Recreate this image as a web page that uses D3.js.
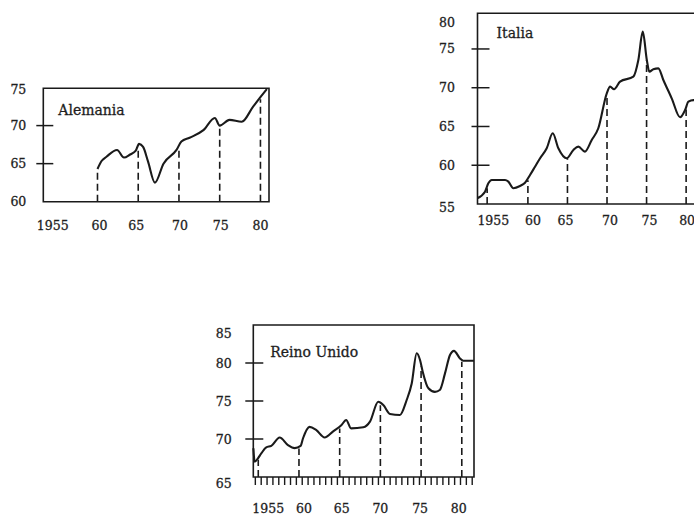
<!DOCTYPE html>
<html>
<head>
<meta charset="utf-8">
<script src="https://cdn.jsdelivr.net/npm/d3@7"></script>
<style>
  html, body { margin: 0; padding: 0; background: #fff; }
  svg { display: block; }
  text { font-family: "DejaVu Serif", "Liberation Serif", serif; fill: #1e1e1e; stroke: #1e1e1e; stroke-width: 0.3px; }
</style>
</head>
<body>
<script>
// ---------- DATA ----------
const titles = ["Alemania", "Italia", "Reino Unido"];

const alemaniaYears  = [1960.0, 1960.5, 1961.1, 1962.4, 1963.25, 1964.0, 1964.7, 1965.1, 1965.6, 1966.2, 1967.05, 1968.1, 1969.7, 1970.3, 1971.3, 1973.0, 1974.4, 1975.0, 1976.2, 1977.7, 1979.1, 1979.9, 1980.8];
const alemaniaValues = [64.3, 65.35, 65.9, 66.8, 65.8, 66.2, 66.7, 67.6, 67.2, 65.3, 62.5, 65.0, 66.8, 67.9, 68.4, 69.4, 71.0, 70.0, 70.75, 70.5, 72.5, 73.6, 74.8];

const italiaYears  = [1953.6, 1954.58, 1955.0, 1955.43, 1957.11, 1957.53, 1958.16, 1959.0, 1959.64, 1960.27, 1960.9, 1961.54, 1962.38, 1963.14, 1963.85, 1964.91, 1965.75, 1966.38, 1967.2, 1968.07, 1968.9, 1969.97, 1970.39, 1970.89, 1971.65, 1973.33, 1973.96, 1974.52, 1975.03, 1975.35, 1975.86, 1976.49, 1977.12, 1978.19, 1979.23, 1979.87, 1980.29, 1980.92, 1982.5];
const italiaValues = [55.74, 56.59, 57.67, 58.1, 58.1, 57.88, 57.03, 57.32, 57.75, 58.74, 59.81, 60.9, 62.19, 64.12, 62.19, 60.9, 61.97, 62.4, 61.75, 63.26, 64.77, 69.28, 70.14, 69.8, 70.78, 71.43, 73.58, 77.23, 73.58, 72.07, 72.38, 72.5, 71.0, 68.6, 66.19, 67.13, 68.2, 68.4, 68.4];

const ukYears  = [1954.4, 1954.56, 1954.96, 1955.37, 1955.98, 1956.6, 1957.63, 1958.65, 1959.47, 1960.2, 1960.5, 1961.3, 1962.1, 1963.15, 1964.2, 1965.2, 1965.8, 1966.4, 1967.9, 1968.72, 1969.74, 1970.36, 1971.18, 1972.4, 1973.23, 1973.85, 1974.46, 1974.87, 1975.2, 1975.9, 1976.7, 1977.3, 1977.93, 1978.55, 1979.04, 1979.78, 1980.18, 1981.5];
const ukValues = [68.78, 67.0, 67.46, 68.1, 68.9, 69.1, 70.2, 69.2, 68.8, 69.1, 70.1, 71.6, 71.2, 70.2, 71.0, 71.8, 72.5, 71.4, 71.54, 72.28, 74.9, 74.47, 73.3, 73.16, 75.13, 77.3, 81.28, 80.4, 78.86, 76.67, 76.2, 76.45, 78.6, 81.05, 81.6, 80.6, 80.3, 80.3];

const alemaniaDashYears = [1960, 1965, 1970, 1975, 1980];
const italiaDashYears   = [1954.85, 1960, 1965, 1970, 1975, 1980];
const ukDashYears       = [1955, 1960, 1965, 1970, 1975, 1980];

const alemaniaYTicks = [60, 65, 70, 75];
const italiaYTicks   = [55, 60, 65, 70, 75, 80];
const ukYTicks       = [65, 70, 75, 80, 85];

const xTickYears  = [1955, 1960, 1965, 1970, 1975, 1980];
const xTickLabels = ["1955", "60", "65", "70", "75", "80"];

// ---------- LAYOUT ----------
const W = 694, H = 515;
const svg = d3.select("body").append("svg").attr("width", W).attr("height", H);

const panels = [
  { title: titles[0], years: alemaniaYears, values: alemaniaValues, dash: alemaniaDashYears, yTicks: alemaniaYTicks,
    x0: 43.3, x1: 269, y0: 201.7, y1: 88.3, xDom: [1953.35, 1981.05], yDom: [60, 74.9],
    rightBorder: true, tickL: 7, tickR: 10, labelGap: 17, topShift: 2, botShift: 0,
    titleDx: 15, titleDy: 27, xLabelDy: 28, minorTicks: false, xLabelDx: [-4, 2, -2, 1, 1, 0] },
  { title: titles[1], years: italiaYears, values: italiaValues, dash: italiaDashYears, yTicks: italiaYTicks,
    x0: 477.5, x1: 712, y0: 204, y1: 13.3, xDom: [1953.63, 1983.27], yDom: [55, 79.6],
    rightBorder: false, tickL: 6, tickR: 12, labelGap: 22.5, topShift: 12, botShift: 3,
    titleDx: 19, titleDy: 25, xLabelDy: 21, minorTicks: false, xLabelDx: [5, 5, -2, 3, 3, 1] },
  { title: titles[2], years: ukYears, values: ukValues, dash: ukDashYears, yTicks: ukYTicks,
    x0: 253.3, x1: 474, y0: 477, y1: 325, xDom: [1954.39, 1981.5], yDom: [65, 85],
    rightBorder: true, tickL: 8, tickR: 10, labelGap: 21.6, topShift: 8, botShift: 6,
    titleDx: 17, titleDy: 32, xLabelDy: 36, minorTicks: true, xLabelDx: [10, 5, 2, 0, -1, -3] }
];

const ink = "#1a1a1a";

panels.forEach(p => {
  const x = d3.scaleLinear().domain(p.xDom).range([p.x0, p.x1]);
  const y = d3.scaleLinear().domain(p.yDom).range([p.y0, p.y1]);
  const g = svg.append("g");
  const pts = p.years.map((yr, i) => ({ yr, v: p.values[i] }));

  // value at a given year (linear interpolation along the data)
  const bis = d3.bisector(d => d.yr).left;
  const valueAt = yr => {
    let i = bis(pts, yr);
    if (i <= 0) return pts[0].v;
    if (i >= pts.length) return pts[pts.length - 1].v;
    const a = pts[i - 1], b = pts[i];
    return a.v + (b.v - a.v) * (yr - a.yr) / (b.yr - a.yr);
  };

  // dashed drop lines
  g.selectAll("line.dash").data(p.dash).enter().append("line")
    .attr("x1", d => x(d)).attr("x2", d => x(d))
    .attr("y1", p.y0).attr("y2", d => y(valueAt(d)) + 2)
    .attr("stroke", ink).attr("stroke-width", 1.6)
    .attr("stroke-dasharray", "7,4");

  // box
  const box = d3.path();
  if (p.rightBorder) {
    box.moveTo(p.x0, p.y0); box.lineTo(p.x0, p.y1); box.lineTo(p.x1, p.y1); box.lineTo(p.x1, p.y0); box.closePath();
  } else {
    box.moveTo(p.x1, p.y1); box.lineTo(p.x0, p.y1); box.lineTo(p.x0, p.y0); box.lineTo(p.x1, p.y0);
  }
  g.append("path").attr("d", box.toString()).attr("fill", "none")
    .attr("stroke", ink).attr("stroke-width", 1.6);

  // y ticks (crossing the axis), interior only
  const inner = p.yTicks.slice(1, -1);
  g.selectAll("line.yt").data(inner).enter().append("line")
    .attr("x1", p.x0 - p.tickL).attr("x2", p.x0 + p.tickR)
    .attr("y1", d => y(d)).attr("y2", d => y(d))
    .attr("stroke", ink).attr("stroke-width", 1.5);

  // y labels
  g.selectAll("text.yl").data(p.yTicks).enter().append("text")
    .attr("x", p.x0 - p.labelGap)
    .attr("y", (d, i) => y(d) + (i === p.yTicks.length - 1 ? p.topShift : (i === 0 ? p.botShift : 0)))
    .attr("text-anchor", "end").attr("dominant-baseline", "central")
    .attr("font-size", 12.5).text(d => d);

  // x labels
  g.selectAll("text.xl").data(xTickYears).enter().append("text")
    .attr("x", (d, i) => x(d) + p.xLabelDx[i])
    .attr("y", p.y0 + p.xLabelDy)
    .attr("text-anchor", "middle").attr("font-size", 12.5)
    .text((d, i) => xTickLabels[i]);

  // minor ticks strip (Reino Unido)
  if (p.minorTicks) {
    const minor = d3.range(p.xDom[0] + 0.25, p.xDom[1], 0.72);
    g.selectAll("line.mt").data(minor).enter().append("line")
      .attr("x1", d => x(d)).attr("x2", d => x(d))
      .attr("y1", p.y0).attr("y2", p.y0 + 8)
      .attr("stroke", ink).attr("stroke-width", 1.4);
  }

  // series line
  const line = d3.line().x(d => x(d.yr)).y(d => y(d.v)).curve(d3.curveMonotoneX);
  g.append("path").datum(pts).attr("d", line)
    .attr("fill", "none").attr("stroke", ink).attr("stroke-width", 2.1)
    .attr("stroke-linejoin", "round");

  // title
  g.append("text").attr("x", p.x0 + p.titleDx).attr("y", p.y1 + p.titleDy)
    .attr("font-size", 14).text(p.title);
});
</script>
</body>
</html>
